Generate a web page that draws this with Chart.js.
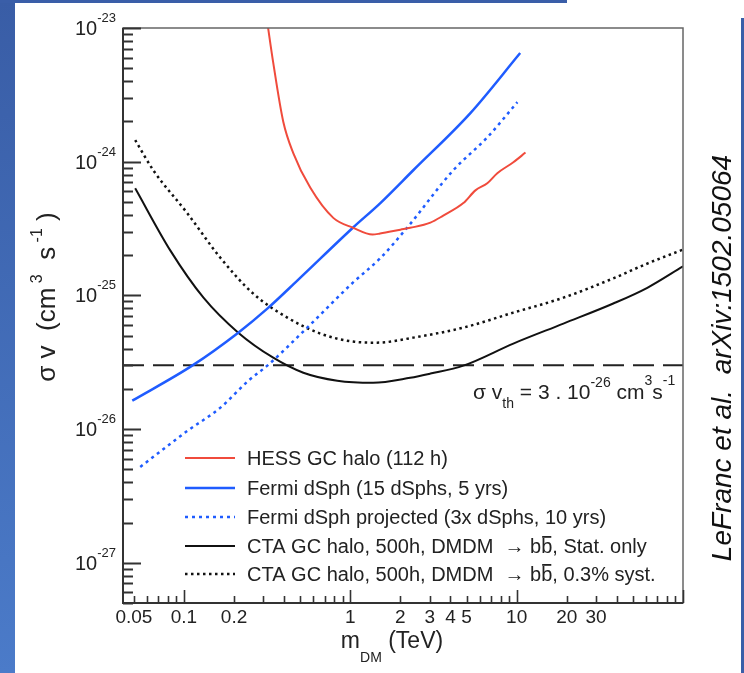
<!DOCTYPE html>
<html>
<head>
<meta charset="utf-8">
<script src="https://cdn.jsdelivr.net/npm/chart.js@4.4.0/dist/chart.umd.min.js"></script>
<style>
  html, body { margin: 0; padding: 0; background: #fff; }
  canvas { display: block; }
</style>
</head>
<body>
<canvas id="myChart" width="744" height="673"></canvas>
<script>
// axis ranges
const xMin = 0.043;
const xMax = 100;
const yMin = 5e-28;
const yMax = 1e-23;

// HESS GC halo (112 h)
const hessMass = [0.317, 0.344, 0.395, 0.454, 0.574, 0.79, 1.04, 1.36, 1.51, 2.0, 2.29, 3.03, 3.62, 4.78, 5.65, 6.66, 7.65, 9.55, 11.3];
const hessSigma = [1.1e-23, 5.5e-24, 2.0e-24, 1.16e-24, 6.4e-25, 3.8e-25, 3.2e-25, 2.85e-25, 2.9e-25, 3.1e-25, 3.2e-25, 3.5e-25, 3.95e-25, 4.9e-25, 6.1e-25, 6.9e-25, 8.2e-25, 9.9e-25, 1.17e-24];

// Fermi dSph (15 dSphs, 5 yrs)
const fermiMass = [0.0489, 0.112, 0.212, 0.317, 0.48, 1.04, 1.51, 2.39, 5.27, 10.5];
const fermiSigma = [1.63e-26, 2.98e-26, 5.26e-26, 7.96e-26, 1.29e-25, 3.22e-25, 4.88e-25, 8.63e-25, 2.31e-24, 6.5e-24];

// Fermi dSph projected
const projMass = [0.0546, 0.105, 0.165, 0.244, 0.317, 0.551, 1.04, 1.51, 2.2, 4.16, 6.66, 10.1];
const projSigma = [5.21e-27, 9.7e-27, 1.44e-26, 2.3e-26, 2.98e-26, 5.74e-26, 1.25e-25, 1.89e-25, 3.22e-25, 8.63e-25, 1.52e-24, 2.79e-24];

// CTA stat. only
const ctaMass = [0.0509, 0.0827, 0.131, 0.212, 0.344, 0.522, 0.835, 1.37, 2.29, 3.03, 4.78, 9.55, 19.1, 38.1, 61, 100];
const ctaSigma = [6.32e-25, 2.17e-25, 9.61e-26, 5.26e-26, 3.42e-26, 2.64e-26, 2.3e-26, 2.22e-26, 2.42e-26, 2.6e-26, 2.98e-26, 4.36e-26, 6.15e-26, 8.69e-26, 1.14e-25, 1.65e-25];

// CTA 0.3% syst.
const ctaSystMass = [0.0509, 0.0654, 0.105, 0.165, 0.261, 0.418, 0.66, 1.04, 1.45, 2.39, 4.78, 9.55, 19.1, 38.1, 61, 100];
const ctaSystSigma = [1.45e-24, 8.63e-25, 4.1e-25, 1.92e-25, 1.03e-25, 6.82e-26, 5.18e-26, 4.51e-26, 4.43e-26, 4.83e-26, 5.74e-26, 7.43e-26, 9.61e-26, 1.34e-25, 1.73e-25, 2.2e-25];

// thermal relic cross section
const thermalSigma = 3e-26;

const xTickLabels = ["0.05", "0.1", "0.2", "1", "2", "3", "4", "5", "10", "20", "30"];
const yTickExponents = [-23, -24, -25, -26, -27];

const legendLabels = [
  "HESS GC halo (112 h)",
  "Fermi dSph (15 dSphs, 5 yrs)",
  "Fermi dSph projected (3x dSphs, 10 yrs)",
  "CTA GC halo, 500h, DMDM  \u2192 bb\u0304, Stat. only",
  "CTA GC halo, 500h, DMDM  \u2192 bb\u0304, 0.3% syst."
];

const FONT = "'Liberation Sans', Arial, sans-serif";
const TEXT = "#222";

const toPoints = (xs, ys) => xs.map((x, i) => ({ x: x, y: ys[i] }));

// draws a row of text pieces: [text, size, dy]
function drawRich(ctx, parts, x, y, align) {
  let w = 0;
  parts.forEach(p => { ctx.font = p[1] + "px " + FONT; w += ctx.measureText(p[0]).width; });
  let cx = align === "center" ? x - w / 2 : (align === "right" ? x - w : x);
  ctx.textAlign = "left";
  parts.forEach(p => {
    ctx.font = p[1] + "px " + FONT;
    ctx.fillText(p[0], cx, y + p[2]);
    cx += ctx.measureText(p[0]).width;
  });
}

// label text with a combining overline drawn by hand
function drawLabel(ctx, label, x, y) {
  const k = label.indexOf("\u0304");
  if (k < 0) { ctx.fillText(label, x, y); return; }
  const before = label.slice(0, k - 1), ch = label[k - 1], after = label.slice(k + 1);
  ctx.fillText(before, x, y);
  let cx = x + ctx.measureText(before).width;
  ctx.fillText(ch, cx, y);
  const cw = ctx.measureText(ch).width;
  ctx.fillRect(cx + 1, y - 17, cw - 2, 1.8);
  cx += cw;
  ctx.fillText(after, cx, y);
}

const decorPlugin = {
  id: "decor",
  beforeDraw(chart) {
    const ctx = chart.ctx;
    ctx.save();
    ctx.fillStyle = "#fff";
    ctx.fillRect(0, 0, chart.width, chart.height);
    const g = ctx.createLinearGradient(0, 0, 0, chart.height);
    g.addColorStop(0, "#395da6");
    g.addColorStop(1, "#4b7bc9");
    ctx.fillStyle = g;
    ctx.fillRect(0, 0, 15, chart.height);
    ctx.fillStyle = "#3a5ea8";
    ctx.fillRect(0, 0, 567, 3);
    ctx.fillRect(741, 18, 3, chart.height - 18);
    ctx.restore();
  },
  afterDatasetsDraw(chart) {
    const ctx = chart.ctx;
    const a = chart.chartArea;
    const xs = chart.scales.x, ys = chart.scales.y;
    ctx.save();

    // frame
    ctx.strokeStyle = "#666";
    ctx.lineWidth = 1.5;
    ctx.strokeRect(a.left, a.top, a.right - a.left, a.bottom - a.top);
    ctx.strokeStyle = "#333";
    ctx.lineWidth = 2;
    ctx.beginPath();
    ctx.moveTo(a.left, a.top); ctx.lineTo(a.left, a.bottom); ctx.lineTo(a.right, a.bottom);
    ctx.stroke();

    // y ticks, inward
    ctx.lineWidth = 2;
    ctx.beginPath();
    for (let e = -28; e <= -23; e++) {
      for (let k = 1; k <= 9; k++) {
        const v = k * Math.pow(10, e);
        if (v < yMin * 0.999 || v > yMax * 1.001) continue;
        const py = Math.round(ys.getPixelForValue(v)) + 0.5;
        ctx.moveTo(a.left, py);
        ctx.lineTo(a.left + (k === 1 ? 18 : 10), py);
      }
    }
    ctx.stroke();

    // x ticks, inward
    ctx.lineWidth = 1.6;
    ctx.beginPath();
    for (let e = -2; e <= 2; e++) {
      for (let k = 1; k <= 9; k++) {
        const v = k * Math.pow(10, e);
        if (v < xMin || v > xMax * 1.001) continue;
        const px = Math.round(xs.getPixelForValue(v)) + 0.5;
        ctx.moveTo(px, a.bottom);
        ctx.lineTo(px, a.bottom - (k === 1 ? 13 : 7));
      }
    }
    ctx.stroke();

    ctx.fillStyle = TEXT;
    ctx.textBaseline = "alphabetic";

    // x tick labels
    ctx.font = "19px " + FONT;
    ctx.textAlign = "center";
    xTickLabels.forEach(t => {
      ctx.fillText(t, xs.getPixelForValue(parseFloat(t)), a.bottom + 20);
    });

    // y tick labels 10^n
    yTickExponents.forEach(e => {
      const py = ys.getPixelForValue(Math.pow(10, e));
      drawRich(ctx, [["10", 20, 0], [String(e), 13, -13]], 116, py + 7, "right");
    });

    // axis titles
    drawRich(ctx, [["m", 23, 0], ["DM", 14, 14], [" (TeV)", 23, 0]], 392, a.bottom + 45, "center");
    ctx.save();
    ctx.translate(55, 297);
    ctx.rotate(-Math.PI / 2);
    drawRich(ctx, [["\u03c3 v  (cm", 26, 0], [" 3", 16, -13], ["  s", 26, 0], [" -1", 16, -13], [" )", 26, 0]], 0, 0, "center");
    ctx.restore();

    // threshold annotation
    drawRich(ctx, [["\u03c3 v", 21, 0], ["th", 14, 9], [" = 3 . 10", 21, 0], ["-26", 14, -12], [" cm", 21, 0], ["3", 14, -14], ["s", 21, 0], ["-1", 14, -14]], 473, 399, "left");

    // legend
    const rows = [458, 488, 517, 546, 574];
    ctx.font = "20px " + FONT;
    ctx.textAlign = "left";
    chart.data.datasets.slice(0, 5).forEach((ds, i) => {
      ctx.strokeStyle = ds.borderColor;
      ctx.lineWidth = ds.borderWidth;
      ctx.setLineDash(ds.borderDash || []);
      ctx.beginPath();
      ctx.moveTo(185, rows[i]);
      ctx.lineTo(235, rows[i]);
      ctx.stroke();
      ctx.setLineDash([]);
      ctx.fillStyle = TEXT;
      drawLabel(ctx, legendLabels[i], 247, rows[i] + 7);
    });

    // reference note on the right
    ctx.save();
    ctx.translate(731, 358);
    ctx.rotate(-Math.PI / 2);
    ctx.font = "italic 28px " + FONT;
    ctx.textAlign = "center";
    ctx.fillStyle = "#111";
    ctx.fillText("LeFranc et al.  arXiv:1502.05064", 0, 0);
    ctx.restore();

    ctx.restore();
  }
};

new Chart(document.getElementById("myChart").getContext("2d"), {
  type: "line",
  data: {
    datasets: [
      {
        label: legendLabels[0],
        data: toPoints(hessMass, hessSigma),
        borderColor: "#f04b3c",
        borderWidth: 2,
      },
      {
        label: legendLabels[1],
        data: toPoints(fermiMass, fermiSigma),
        borderColor: "#1f5cff",
        borderWidth: 2.5,
      },
      {
        label: legendLabels[2],
        data: toPoints(projMass, projSigma),
        borderColor: "#1f5cff",
        borderWidth: 2.5,
        borderDash: [3, 4],
      },
      {
        label: legendLabels[3],
        data: toPoints(ctaMass, ctaSigma),
        borderColor: "#111",
        borderWidth: 2,
      },
      {
        label: legendLabels[4],
        data: toPoints(ctaSystMass, ctaSystSigma),
        borderColor: "#111",
        borderWidth: 2.5,
        borderDash: [2.5, 3.5],
      },
      {
        label: "thermal",
        data: [{ x: xMin, y: thermalSigma }, { x: xMax, y: thermalSigma }],
        borderColor: "#222",
        borderWidth: 2,
        borderDash: [21, 9],
      },
    ],
  },
  options: {
    responsive: false,
    animation: false,
    devicePixelRatio: 1,
    layout: { padding: { left: 123, top: 28, right: 61, bottom: 70 } },
    elements: {
      point: { radius: 0 },
      line: { cubicInterpolationMode: "monotone", fill: false },
    },
    scales: {
      x: { type: "logarithmic", min: xMin, max: xMax, display: false },
      y: { type: "logarithmic", min: yMin, max: yMax, display: false },
    },
    plugins: {
      legend: { display: false },
      tooltip: { enabled: false },
    },
  },
  plugins: [decorPlugin],
});
</script>
</body>
</html>
